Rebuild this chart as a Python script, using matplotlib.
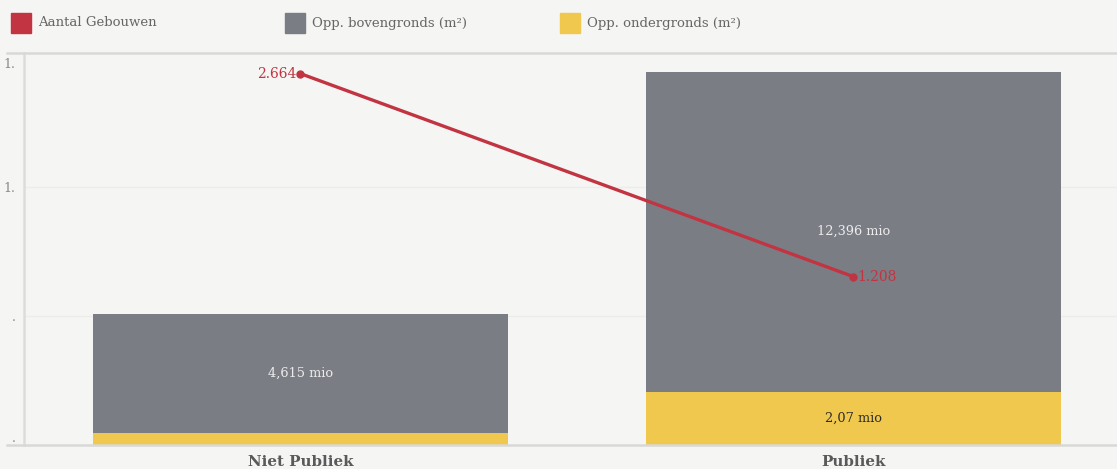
import matplotlib.pyplot as plt
from matplotlib.lines import Line2D
from matplotlib.patches import Rectangle

# Data
categories = ['Niet Publiek', 'Publiek']
boven = [4.615, 12.396]        # mio m2
onder = [0.46, 2.07]           # mio m2
gebouwen = [2664, 1208]
boven_labels = ['4,615 mio', '12,396 mio']
onder_labels = ['', '2,07 mio']
gebouwen_labels = ['2.664', '1.208']
ytick_vals = [0, 5, 10, 15]
ytick_labels = ['.', '.', '1.', '1.']

bg = '#f5f5f3'
red = '#c23441'
grey = '#7b7d85'
yellow = '#f0c84e'
font = 'DejaVu Serif'

W, H = 1117, 469
fig = plt.figure(figsize=(W / 100, H / 100), dpi=100, facecolor=bg)
ax = fig.add_axes([24 / W, (H - 445) / H, (W - 24) / W, (445 - 53) / H])
ax.set_facecolor(bg)

x = list(range(len(categories)))
ax.bar(x, onder, width=0.75, color=yellow, zorder=2)
ax.bar(x, boven, width=0.75, bottom=onder, color=grey, zorder=2)

for i in x:
    ax.text(i, onder[i] + boven[i] / 2, boven_labels[i], ha='center', va='center',
            color='#ececec', fontsize=9.3, family=font, zorder=3)
    if onder_labels[i]:
        ax.text(i, onder[i] / 2, onder_labels[i], ha='center', va='center',
                color='#2b2b2b', fontsize=9.3, family=font, zorder=3)

ax.set_xlim(-0.5, 1.477)
ax.set_ylim(0, 15.19)
ax.set_xticks(x)
ax.set_xticklabels(categories, fontsize=10.8, fontweight='bold', family=font, color='#5a5a5a')
ax.set_yticks(ytick_vals)
ax.set_yticklabels(ytick_labels, fontsize=9, family=font, color='#888888')
ax.get_yticklabels()[-1].set_va('top')
ax.get_yticklabels()[0].set_va('bottom')
ax.tick_params(axis='both', length=0)
ax.tick_params(axis='y', pad=6)
ax.tick_params(axis='x', pad=7)
for g in ytick_vals[1:3]:
    ax.axhline(g, color='#ececea', lw=1, zorder=0)
for s in ['top', 'right', 'bottom']:
    ax.spines[s].set_visible(False)
ax.spines['left'].set_color('#dcdcda')
ax.spines['left'].set_linewidth(1.8)

# secondary axis for Aantal Gebouwen
ax2 = ax.twinx()
ax2.set_ylim(0, 2812)
ax2.axis('off')
ax2.plot(x, gebouwen, color=red, lw=2.4, marker='o', markersize=5, zorder=4)
ax2.text(x[0] - 0.008, gebouwen[0], gebouwen_labels[0], ha='right', va='center',
         color=red, fontsize=10, family=font)
ax2.text(x[1] + 0.008, gebouwen[1], gebouwen_labels[1], ha='left', va='center',
         color=red, fontsize=10, family=font)

# top and bottom rules
for yy in [53, 445]:
    fig.add_artist(Line2D([7 / W, 1], [(H - yy) / H] * 2, color='#d8d8d6', lw=1.8,
                          transform=fig.transFigure))

# legend
legend_items = [('Aantal Gebouwen', red, 11), ('Opp. bovengronds (m²)', grey, 285),
                ('Opp. ondergronds (m²)', yellow, 560)]
for label, col, px in legend_items:
    fig.add_artist(Rectangle((px / W, (H - 33) / H), 20 / W, 20 / H, color=col,
                             transform=fig.transFigure))
    fig.text((px + 27) / W, (H - 23) / H, label, ha='left', va='center',
             fontsize=9.5, family=font, color='#666666')

fig.savefig('out.png', dpi=100, facecolor=bg)
